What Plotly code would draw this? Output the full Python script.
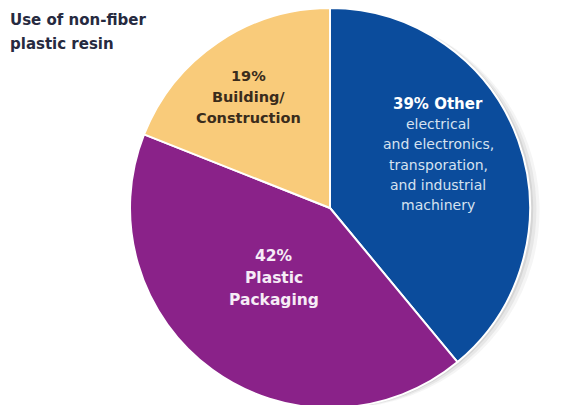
import plotly.graph_objects as go

# Data
categories = ["Other", "Plastic Packaging", "Building/Construction"]
values = [39, 42, 19]
colors = ["#0B4C9C", "#8A2289", "#F9CB7A"]

title_lines = ["Use of non-fiber", "plastic resin"]
other_lines = ["39% Other", "electrical", "and electronics,", "transporation,", "and industrial", "machinery"]
pack_lines = ["42%", "Plastic", "Packaging"]
build_lines = ["19%", "Building/", "Construction"]

W, H = 580, 400
OFF = 8  # page body margin
cx, r = 330 - OFF, 200

def px(x):
    return (x - OFF) / W

def py(y):
    return 1 - (y - OFF) / H

fig = go.Figure()

# soft drop shadow layers
for off, op in [(12, 0.05), (8, 0.07), (4, 0.10)]:
    fig.add_trace(go.Pie(
        values=values, labels=categories, sort=False, direction="clockwise",
        marker=dict(colors=[f"rgba(60,60,60,{op})"] * 3, line=dict(width=0)),
        textinfo="none", hoverinfo="skip", showlegend=False,
        domain=dict(x=[(cx - r + off) / W, (cx + r + off) / W], y=[0, 1 - off * 0.4 / H]),
    ))

fig.add_trace(go.Pie(
    values=values, labels=categories, sort=False, direction="clockwise",
    marker=dict(colors=colors, line=dict(color="white", width=2)),
    textinfo="none", showlegend=False,
    domain=dict(x=[(cx - r) / W, (cx + r) / W], y=[0, 1]),
))

ann = []
font_fam = "DejaVu Sans"
# Title
for i, t in enumerate(title_lines):
    ann.append(dict(text=f"<b>{t}</b>", x=px(8), y=py(20 + i * 24), xanchor="left", yanchor="middle",
                    font=dict(family=font_fam, size=15, color="#262a40")))
# Building
for i, t in enumerate(build_lines):
    ann.append(dict(text=f"<b>{t}</b>", x=px(248), y=py(76 + i * 21), xanchor="center", yanchor="middle",
                    font=dict(family=font_fam, size=14.5, color="#3a2c1c")))
# Other
for i, t in enumerate(other_lines):
    txt = f"<b>{t}</b>" if i == 0 else t
    col = "white" if i == 0 else "#d6e2f0"
    ann.append(dict(text=txt, x=px(438), y=py(104 + i * 20.2), xanchor="center", yanchor="middle",
                    font=dict(family=font_fam, size=15 if i == 0 else 14, color=col)))
# Packaging
for i, t in enumerate(pack_lines):
    ann.append(dict(text=f"<b>{t}</b>", x=px(274), y=py(256 + i * 22), xanchor="center", yanchor="middle",
                    font=dict(family=font_fam, size=15.5, color="#f6ecf6")))

for a in ann:
    a.update(xref="paper", yref="paper", showarrow=False)

fig.update_layout(
    width=W, height=H, margin=dict(l=0, r=0, t=0, b=0),
    paper_bgcolor="white", plot_bgcolor="white",
    annotations=ann, showlegend=False,
)

fig.write_html("out.html")
